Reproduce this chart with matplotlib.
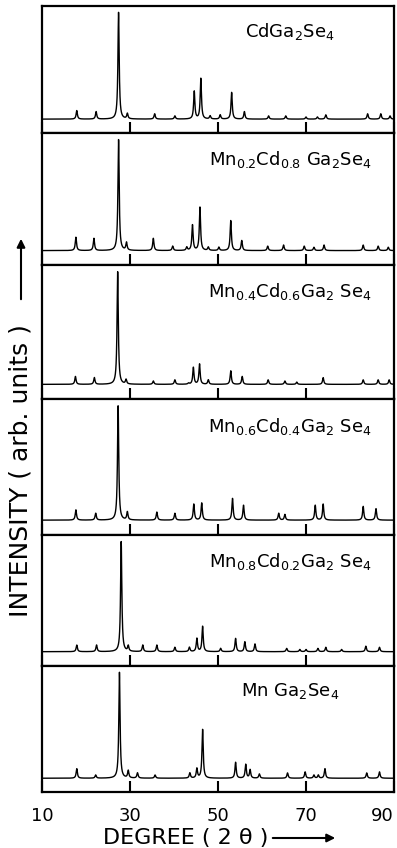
import numpy as np
import matplotlib
matplotlib.use("Agg")
import matplotlib.pyplot as plt

# Peak positions (deg 2-theta) and heights (% of strongest peak)
labels = [
    "CdGa$_2$Se$_4$",
    "Mn$_{0.2}$Cd$_{0.8}$ Ga$_2$Se$_4$",
    "Mn$_{0.4}$Cd$_{0.6}$Ga$_2$ Se$_4$",
    "Mn$_{0.6}$Cd$_{0.4}$Ga$_2$ Se$_4$",
    "Mn$_{0.8}$Cd$_{0.2}$Ga$_2$ Se$_4$",
    "Mn Ga$_2$Se$_4$",
]

pos_cd = [17.9, 22.3, 27.4, 29.4, 35.6, 40.2, 44.6, 46.1, 48.2, 50.5, 53.1, 56.0,
          61.5, 65.4, 70.0, 72.6, 74.5, 84.0, 87.0, 89.1]
int_cd = [8, 7, 100, 5, 5, 3, 26, 38, 3, 4, 25, 7, 3, 3, 2, 2, 4, 5, 5, 3]

pos_mn02 = [17.7, 21.8, 27.4, 29.2, 35.3, 39.7, 42.9, 44.2, 45.9, 47.8, 50.2, 52.9,
            55.4, 61.3, 64.9, 69.6, 71.8, 74.1, 83.0, 86.4, 88.7]
int_mn02 = [12, 11, 100, 7, 11, 4, 3, 23, 39, 3, 3, 27, 9, 4, 5, 4, 3, 5, 5, 4, 3]

pos_mn04 = [17.6, 21.9, 27.2, 29.1, 35.3, 40.2, 43.3, 44.4, 45.8, 47.8, 52.9, 55.5,
            61.4, 65.2, 67.9, 73.9, 83.0, 86.4, 88.9]
int_mn04 = [7, 6, 100, 4, 3, 4, 1, 15, 18, 4, 12, 7, 4, 3, 2, 6, 4, 4, 4]

pos_mn06 = [17.7, 22.2, 27.3, 29.4, 36.1, 40.2, 44.5, 46.3, 53.3, 55.8, 63.8, 65.2,
            72.1, 73.9, 83.0, 85.9]
int_mn06 = [9, 6, 100, 7, 7, 6, 14, 15, 19, 13, 6, 5, 13, 14, 12, 10]

pos_mn08 = [17.9, 22.4, 28.0, 29.6, 32.9, 36.1, 40.2, 43.5, 45.2, 46.5, 50.6, 54.0,
            56.1, 58.4, 65.6, 68.6, 70.0, 72.7, 74.5, 78.1, 83.6, 86.7]
int_mn08 = [6, 6, 100, 5, 6, 6, 4, 4, 12, 23, 3, 12, 9, 7, 3, 2, 2, 3, 4, 2, 5, 4]

pos_mn = [17.9, 22.2, 27.6, 29.6, 31.7, 35.7, 43.6, 45.2, 46.5, 54.0, 56.3, 57.3,
          59.4, 65.8, 69.8, 71.8, 72.8, 74.3, 83.8, 86.7]
int_mn = [9, 3, 100, 7, 5, 3, 5, 9, 46, 15, 13, 8, 4, 5, 6, 3, 3, 9, 5, 6]

positions = [pos_cd, pos_mn02, pos_mn04, pos_mn06, pos_mn08, pos_mn]
intensities = [int_cd, int_mn02, int_mn04, int_mn06, int_mn08, int_mn]

x_ticks = [10, 30, 50, 70, 90]

plt.rcParams["font.family"] = ["DejaVu Sans"]
plt.rcParams["mathtext.fontset"] = "dejavusans"


def pattern(x, pos, hts, w=0.17):
    y = np.zeros_like(x)
    for p, h in zip(pos, hts):
        y += h * w**2 / ((x - p) ** 2 + w**2)
    return y


x = np.linspace(10, 90, 8001)

W, H = 397, 848
fig = plt.figure(figsize=(W / 100, H / 100), dpi=100)

# panel borders in pixels, top to bottom
edges = [6, 133, 265, 399, 535, 666, 792]
left, right = 42, 394

for i in range(6):
    top, bot = edges[i], edges[i + 1]
    ax = fig.add_axes([left / W, 1 - bot / H, (right - left) / W, (bot - top) / H])
    ax.plot(x, pattern(x, positions[i], intensities[i]), color="black", lw=1.0)
    ax.set_xlim(10, 90)
    ax.set_ylim(-13, 106)
    ax.set_yticks([])
    ax.set_xticks(x_ticks)
    ax.tick_params(axis="x", direction="in", length=8, width=1.5, pad=11,
                   labelsize=13, top=False)
    if i < 5:
        ax.set_xticklabels([])
    else:
        ax.get_xticklabels()[-1].set_horizontalalignment("right")
    for s in ax.spines.values():
        s.set_linewidth(1.6)
    ax.text(0.705, 0.80, labels[i], transform=ax.transAxes, ha="center",
            va="center", fontsize=13)

# axis titles with arrows
fig.text(186 / W, 1 - 838 / H, "DEGREE ( 2 θ )", ha="center", va="center",
         fontsize=16)
fig.add_artist(matplotlib.patches.FancyArrowPatch(
    (270 / W, 1 - 838 / H), (338 / W, 1 - 838 / H), transform=fig.transFigure,
    arrowstyle="-|>", mutation_scale=12, color="black", lw=1.5))

fig.text(21 / W, 1 - 471 / H, "INTENSITY ( arb. units )", ha="center", va="center",
         rotation=90, fontsize=18)
fig.add_artist(matplotlib.patches.FancyArrowPatch(
    (21 / W, 1 - 302 / H), (21 / W, 1 - 236 / H), transform=fig.transFigure,
    arrowstyle="-|>", mutation_scale=12, color="black", lw=1.5))

fig.savefig("out.png", dpi=100)
